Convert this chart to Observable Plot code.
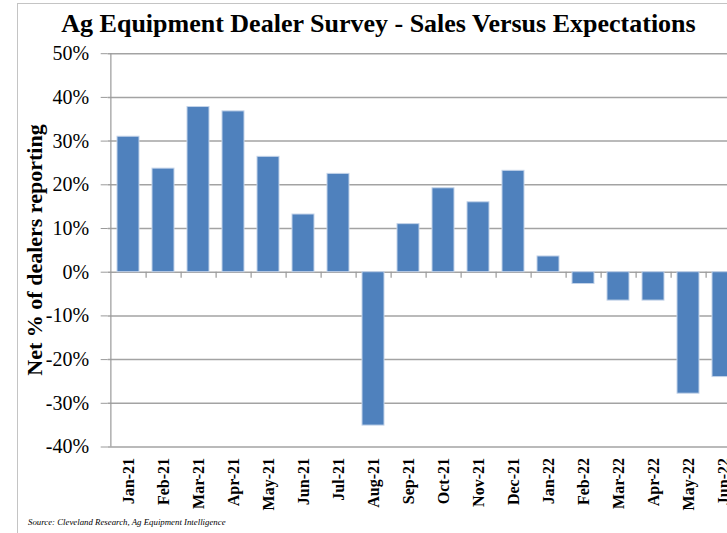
<!DOCTYPE html>
<html>
<head>
<meta charset="utf-8">
<script src="https://cdn.jsdelivr.net/npm/d3@7"></script>
<script src="https://cdn.jsdelivr.net/npm/@observablehq/plot@0.6"></script>
<style>
  html, body { margin: 0; padding: 0; background: #fff; overflow: hidden; }
  #wrap { position: relative; width: 727px; height: 533px; overflow: hidden; background: #fff; font-family: "Liberation Serif", "Times New Roman", serif; }
  #border { position: absolute; left: 17px; top: 3px; width: 900px; height: 700px; border-left: 1px solid #c4c4c4; border-top: 1px solid #c4c4c4; }
  #title { position: absolute; left: 17px; width: 723px; top: 7px; text-align: center; font-size: 26px; font-weight: bold; line-height: 34px; color: #000; white-space: nowrap; }
  #ylabel { position: absolute; left: 35px; top: 250px; transform: translate(-50%, -50%) rotate(-90deg); font-size: 22px; font-weight: bold; white-space: nowrap; color: #000; }
  #caption { position: absolute; left: 28px; top: 517px; font-size: 8.8px; font-style: italic; color: #000; white-space: nowrap; }
  #chart { position: absolute; left: 0; top: 0; width: 745px; }
</style>
</head>
<body>
<div id="wrap">
  <div id="border"></div>
  <div id="chart"></div>
  <div id="title">Ag Equipment Dealer Survey - Sales Versus Expectations</div>
  <div id="ylabel">Net % of dealers reporting</div>
  <div id="caption">Source: Cleveland Research, Ag Equipment Intelligence</div>
</div>
<script>
const months = ["Jan-21","Feb-21","Mar-21","Apr-21","May-21","Jun-21","Jul-21","Aug-21","Sep-21","Oct-21","Nov-21","Dec-21","Jan-22","Feb-22","Mar-22","Apr-22","May-22","Jun-22"];
const netPct = [31.0, 23.7, 37.8, 36.8, 26.4, 13.2, 22.5, -35.1, 11.0, 19.2, 16.0, 23.2, 3.6, -2.7, -6.5, -6.5, -27.8, -24.0];
const yTicks = [50, 40, 30, 20, 10, 0, -10, -20, -30, -40];

const data = months.map((m, i) => ({month: m, value: netPct[i]}));

const W = 745, H = 533;
const mL = 107.7, mT = 53.2, mB = 86.5;
const plotW = 634.5;
const mR = W - mL - plotW;
const halfStep = plotW / months.length / 2;

const chart = Plot.plot({
  width: W,
  height: H,
  marginLeft: mL,
  marginRight: mR,
  marginTop: mT,
  marginBottom: mB,
  style: {fontFamily: "'Liberation Serif', 'Times New Roman', serif", color: "#000", background: "transparent", overflow: "visible", maxWidth: "none"},
  x: {domain: months, paddingInner: 0.375, paddingOuter: 0.1875, label: null},
  y: {domain: [-40, 50], label: null},
  marks: [
    Plot.ruleY(yTicks, {stroke: "#a3a3a3", strokeWidth: 1.5}),
    Plot.ruleX([months[0]], {dx: -halfStep, y1: -40, y2: 50, stroke: "#9a9a9a", strokeWidth: 1.2}),
    Plot.barY(data, {x: "month", y: "value", fill: "#4F81BD", stroke: "#c3d3e9", strokeWidth: 1}),
    Plot.ruleX(months, {dx: halfStep, y1: 0, y2: 0, insetBottom: -6, stroke: "#9a9a9a", strokeWidth: 1.2}),
    Plot.axisY({ticks: yTicks, tickFormat: d => `${d}%`, tickSize: 7, tickPadding: 12, fontSize: 20, stroke: "#9a9a9a", label: null}),
    Plot.axisX({tickRotate: -90, tickSize: 0, tickPadding: 11, fontSize: 16, fontWeight: "bold", label: null})
  ]
});
document.getElementById("chart").appendChild(chart);
</script>
</body>
</html>
